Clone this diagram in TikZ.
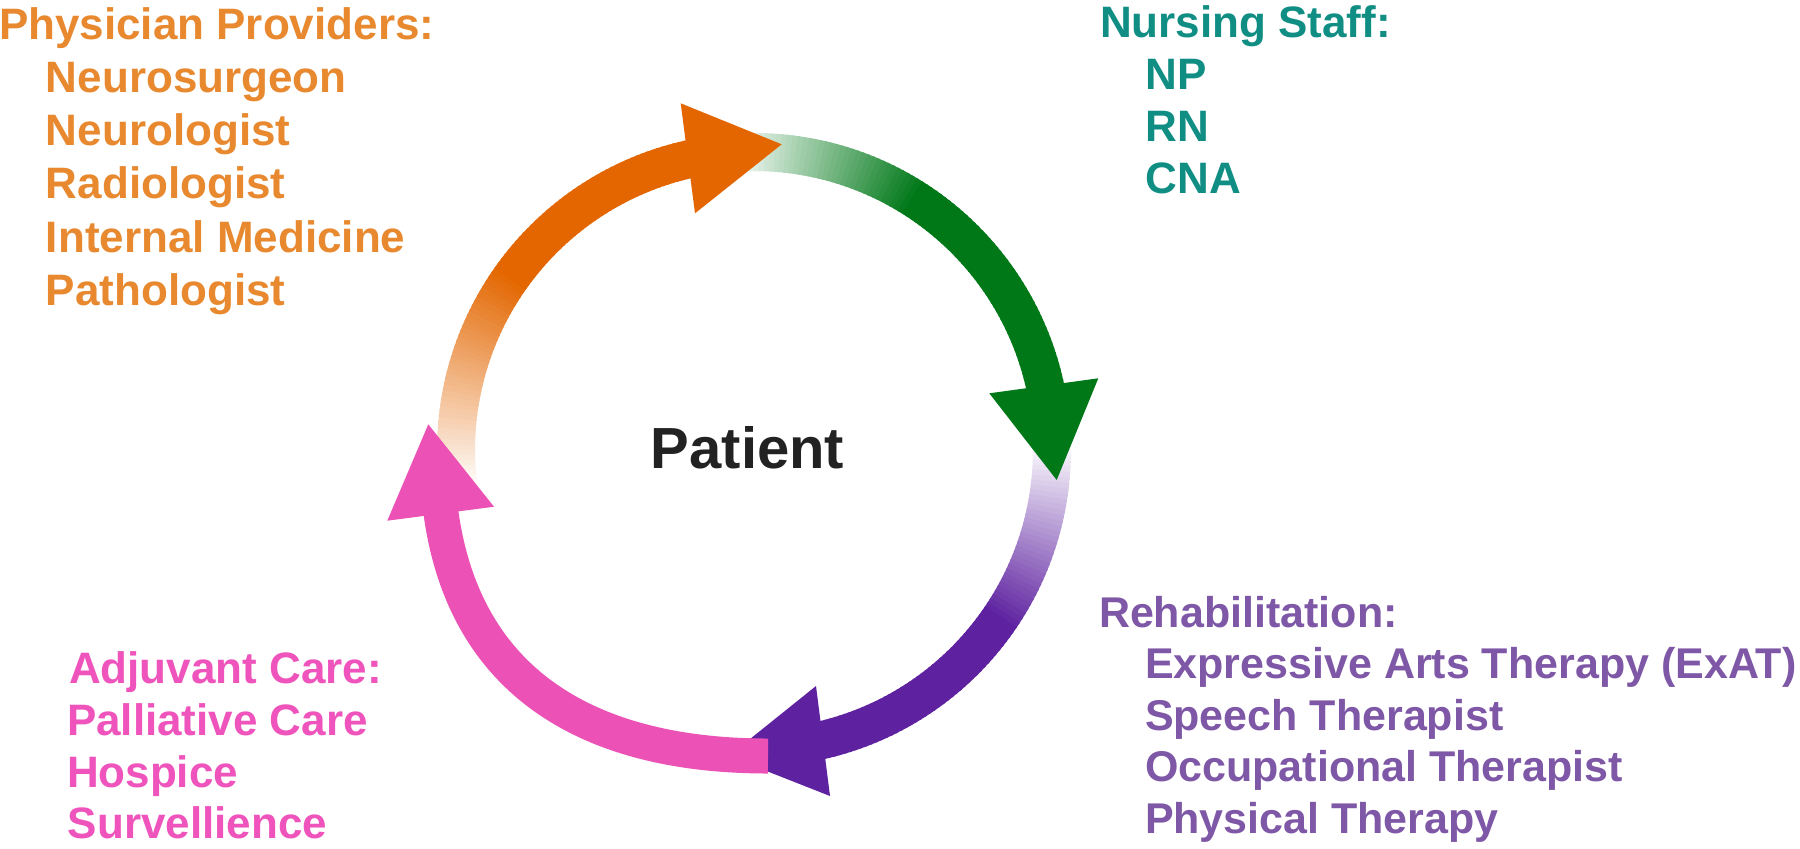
\documentclass[tikz,border=0pt]{standalone}
\usepackage{fontspec}
\setmainfont{Liberation Sans}
\definecolor{txtOrange}{RGB}{232,137,47}
\definecolor{txtTeal}{RGB}{17,142,132}
\definecolor{txtPurple}{RGB}{126,87,166}
\definecolor{txtPink}{RGB}{238,84,188}
\definecolor{txtDark}{RGB}{34,34,34}
\definecolor{arOrange}{RGB}{227,102,0}
\definecolor{arGreen}{RGB}{0,120,24}
\definecolor{arPurple}{RGB}{94,34,160}
\definecolor{arPink}{RGB}{236,82,182}
\begin{document}
\begin{tikzpicture}[x=0.5pt,y=-0.5pt,
  lbl/.style={anchor=base west, inner sep=0pt, outer sep=0pt, font=\bfseries\fontsize{22pt}{26pt}\selectfont},
  lblsmall/.style={lbl, font=\bfseries\fontsize{21.5pt}{26pt}\selectfont},
  ring/.style={shift={(754,450)}, yscale=-1},
  arrowhead/.style={draw=none},
]
\fill[white] (0,0) rectangle (1800,848);
\useasboundingbox (0,0) rectangle (1800,848);

% ---- purple band (gradient) and head
\begin{scope}[ring]
  \foreach \a in {2,1,...,-77} {
    \pgfmathsetmacro\b{\a-1.4}
    \pgfmathsetmacro\p{min(100,max(0,(2-\a)*100/36))}
    \fill[arPurple!\p!white] (\a:279) -- (\a:317) -- (\b:317) -- (\b:279) -- cycle;
  }
\end{scope}
\coordinate (pu1) at (816,686);
\coordinate (pu2) at (830,796);
\coordinate (put) at (728.7,756.1);
\fill[arPurple, arrowhead] (pu1) -- (put) -- (pu2) -- cycle;

% ---- green band and head
\begin{scope}[ring]
  \foreach \a in {95,94,...,12} {
    \pgfmathsetmacro\b{\a-1.4}
    \pgfmathsetmacro\p{min(100,max(0,(95-\a)*100/37))}
    \fill[arGreen!\p!white] (\a:279) -- (\a:317) -- (\b:317) -- (\b:279) -- cycle;
  }
\end{scope}
\coordinate (gr1) at (989.3,393.3);
\coordinate (gr2) at (1098.3,378.3);
\coordinate (grt) at (1056.7,480);
\fill[arGreen, arrowhead] (gr1) -- (grt) -- (gr2) -- cycle;

% ---- orange band and head
\begin{scope}[ring]
  \foreach \a in {188,187,...,102} {
    \pgfmathsetmacro\b{\a-1.4}
    \pgfmathsetmacro\p{min(100,max(0,(188-\a)*100/43))}
    \fill[arOrange!\p!white] (\a:279) -- (\a:317) -- (\b:317) -- (\b:279) -- cycle;
  }
\end{scope}
\coordinate (or1) at (680.7,103.3);
\coordinate (or2) at (695,213.3);
\coordinate (ort) at (781.7,144.3);
\fill[arOrange, arrowhead] (or1) -- (ort) -- (or2) -- cycle;

% ---- pink band and head
\coordinate (pkA) at (768,756);
\coordinate (pkD) at (441,513);
\coordinate (pkE) at (439.6,502);
\draw[arPink, line width=17.5pt] (pkA) .. controls (593,756) and (465,686.3) .. (pkD) -- (pkE);
\coordinate (pk1) at (387.3,520.7);
\coordinate (pk2) at (494,506.7);
\coordinate (pkt) at (428.3,424.3);
\fill[arPink, arrowhead] (pk1) -- (pkt) -- (pk2) -- cycle;

% ---- centre
\node[anchor=base, inner sep=0pt, text=txtDark, font=\bfseries\fontsize{29pt}{34pt}\selectfont] (patient) at (747.5,468) {Patient};

% ---- Physician providers
\begin{scope}[every node/.append style={lbl, text=txtOrange}]
  \node (ph0) at (-1,39) {Physician Providers:};
  \node (ph1) at (46,92) {Neurosurgeon};
  \node (ph2) at (46,145) {Neurologist};
  \node (ph3) at (46,198) {Radiologist};
  \node (ph4) at (46,252) {Internal Medicine};
  \node (ph5) at (46,305) {Pathologist};
\end{scope}

% ---- Nursing staff
\begin{scope}[every node/.append style={lbl, text=txtTeal}]
  \node (ns0) at (1100,37) {Nursing Staff:};
  \node (ns1) at (1145.5,89.5) {NP};
  \node (ns2) at (1145.5,141.5) {RN};
  \node (ns3) at (1145.5,193.5) {CNA};
\end{scope}

% ---- Rehabilitation
\begin{scope}[every node/.append style={lblsmall, text=txtPurple}]
  \node (rh0) at (1099,627) {Rehabilitation:};
  \node (rh1) at (1145,678.5) {Expressive Arts Therapy (ExAT)};
  \node (rh2) at (1145,730) {Speech Therapist};
  \node (rh3) at (1145,781.5) {Occupational Therapist};
  \node (rh4) at (1145,833) {Physical Therapy};
\end{scope}

% ---- Adjuvant care
\begin{scope}[every node/.append style={lbl, text=txtPink}]
  \node (ad0) at (69,683) {Adjuvant Care:};
  \node (ad1) at (67,735) {Palliative Care};
  \node (ad2) at (67,787) {Hospice};
  \node (ad3) at (68,838) {Survellience};
\end{scope}
\end{tikzpicture}
\end{document}
